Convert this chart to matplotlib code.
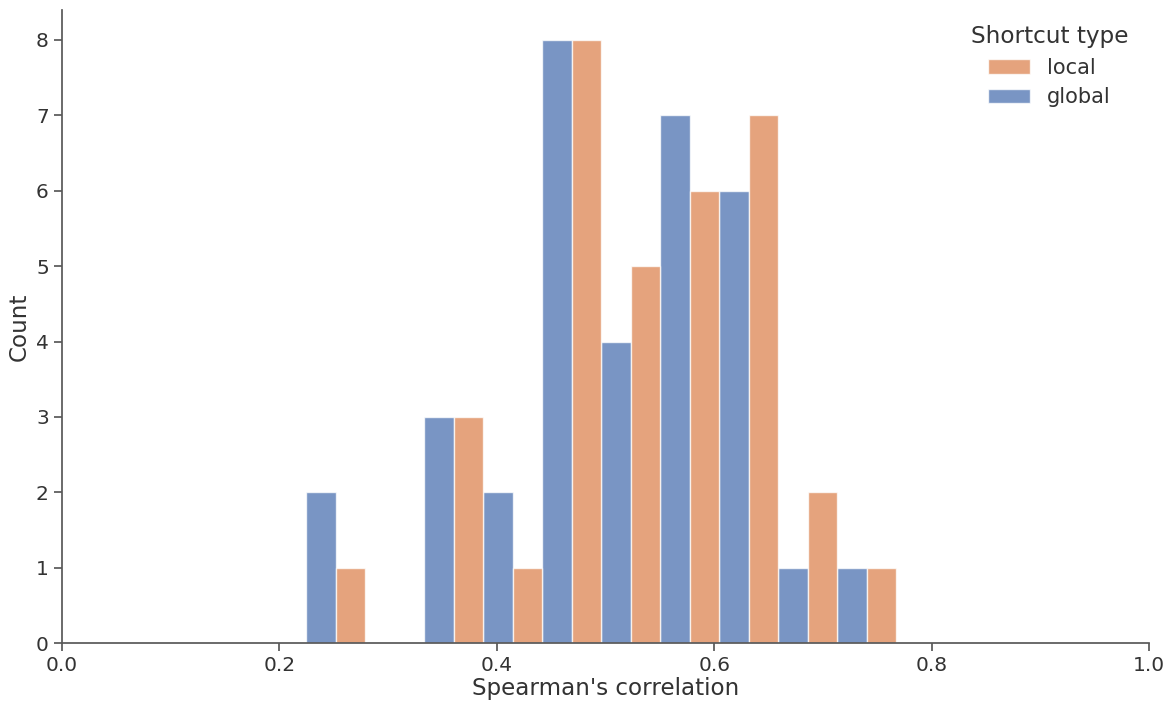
import numpy as np
import matplotlib
matplotlib.use("Agg")
import matplotlib.pyplot as plt
import seaborn as sns

# bin edges of the histogram (Spearman's correlation)
bin_edges = [0.2245, 0.2788, 0.3331, 0.3874, 0.4417, 0.496, 0.5503, 0.6046, 0.6589, 0.7132, 0.7675]
global_counts = [2, 0, 3, 2, 8, 4, 7, 6, 1, 1]
local_counts = [1, 0, 3, 1, 8, 5, 6, 7, 2, 1]
hue_labels = ["local", "global"]

sns.set_theme(style="ticks", palette="deep")
plt.rcParams["font.family"] = ["DejaVu Sans"]
plt.rcParams["text.color"] = ".2"
plt.rcParams["axes.labelcolor"] = ".2"
plt.rcParams["xtick.color"] = ".35"
plt.rcParams["ytick.color"] = ".35"
plt.rcParams["xtick.labelcolor"] = ".2"
plt.rcParams["ytick.labelcolor"] = ".2"
plt.rcParams["axes.edgecolor"] = ".35"

fig = plt.figure(figsize=(11.75, 7.03), dpi=100)
ax = fig.add_axes([0.0528, 0.0853, 0.9252, 0.9007])

edges = np.array(bin_edges)
w = np.diff(edges) / 2
pal = sns.color_palette("deep")
b_glob = ax.bar(edges[:-1], global_counts, width=w, align="edge",
                color=pal[0], alpha=0.75, edgecolor="white", linewidth=1)
b_loc = ax.bar(edges[:-1] + w, local_counts, width=w, align="edge",
               color=pal[1], alpha=0.75, edgecolor="white", linewidth=1)

ax.set_xlim(0, 1)
ax.set_ylim(0, 8.4)
ax.tick_params(labelsize=14.5)
ax.set_xlabel("Spearman's correlation", fontsize=16.6, labelpad=1)
ax.set_ylabel("Count", fontsize=16.6)
sns.despine(ax=ax)

leg = ax.legend([b_loc, b_glob], hue_labels, title="Shortcut type", frameon=False,
                loc="upper right", fontsize=15, title_fontsize=16.7,
                bbox_to_anchor=(0.998, 1.005), labelspacing=0.45)

fig.savefig("out.png")
